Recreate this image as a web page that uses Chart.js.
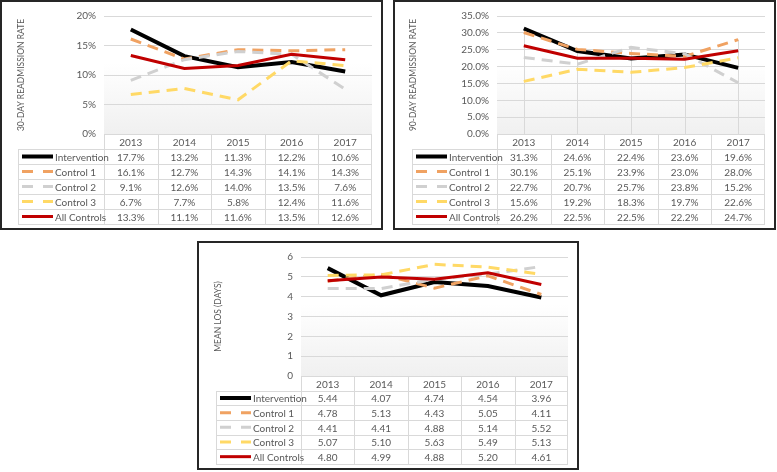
<!DOCTYPE html>
<html>
<head>
<meta charset="utf-8">
<script src="https://cdn.jsdelivr.net/npm/chart.js@4.4.1/dist/chart.umd.min.js"></script>
<style>
  body { margin: 0; background: #fff; width: 777px; height: 472px; position: relative; overflow: hidden; }
  .panel { position: absolute; border: 2px solid #262626; box-sizing: border-box; background: #fff; }
  .panel canvas { display: block; }
</style>
</head>
<body>
<div class="panel" id="p1" style="left:0;top:0;width:383px;height:230px;"><canvas id="c30" width="379" height="226"></canvas></div>
<div class="panel" id="p2" style="left:393px;top:0;width:383px;height:230px;"><canvas id="c90" width="379" height="226"></canvas></div>
<div class="panel" id="p3" style="left:197px;top:241px;width:382px;height:229px;"><canvas id="clos" width="378" height="225"></canvas></div>
<script>
// categories and series
const years = ['2013', '2014', '2015', '2016', '2017'];
const seriesNames = ['Intervention', 'Control 1', 'Control 2', 'Control 3', 'All Controls'];

// 30-day readmission rate (%)
const r30Intervention = [17.7, 13.2, 11.3, 12.2, 10.6];
const r30Control1 = [16.1, 12.7, 14.3, 14.1, 14.3];
const r30Control2 = [9.1, 12.6, 14.0, 13.5, 7.6];
const r30Control3 = [6.7, 7.7, 5.8, 12.4, 11.6];
const r30AllControls = [13.3, 11.1, 11.6, 13.5, 12.6];

// 90-day readmission rate (%)
const r90Intervention = [31.3, 24.6, 22.4, 23.6, 19.6];
const r90Control1 = [30.1, 25.1, 23.9, 23.0, 28.0];
const r90Control2 = [22.7, 20.7, 25.7, 23.8, 15.2];
const r90Control3 = [15.6, 19.2, 18.3, 19.7, 22.6];
const r90AllControls = [26.2, 22.5, 22.5, 22.2, 24.7];

// mean length of stay (days)
const losIntervention = [5.44, 4.07, 4.74, 4.54, 3.96];
const losControl1 = [4.78, 5.13, 4.43, 5.05, 4.11];
const losControl2 = [4.41, 4.41, 4.88, 5.14, 5.52];
const losControl3 = [5.07, 5.10, 5.63, 5.49, 5.13];
const losAllControls = [4.80, 4.99, 4.88, 5.20, 4.61];

// axes
const title30 = '30-DAY READMISSION RATE';
const title90 = '90-DAY READMISSION RATE';
const titleLos = 'MEAN LOS (DAYS)';
const yMax30 = 20, yStep30 = 5;
const yMax90 = 35, yStep90 = 5;
const yMaxLos = 6, yStepLos = 1;

// styles
const FONT = 'Lato, "Open Sans", sans-serif';
const TEXT = '#595959';
const GRID = '#d9d9d9';
const estilos = [
  { color: '#000000', width: 4, dash: [], keyDash: [] },
  { color: '#f0a262', width: 3, dash: [11, 7], keyDash: [11, 10] },
  { color: '#d0d0d0', width: 3, dash: [11, 7], keyDash: [11, 10] },
  { color: '#ffd966', width: 3, dash: [11, 7], keyDash: [11, 10] },
  { color: '#c00000', width: 3, dash: [], keyDash: [] }
];

// fundo com degradê, drop lines e tabela de dados
const tabelaPlugin = {
  id: 'tabela',
  beforeDraw(chart) {
    const { ctx, chartArea: a } = chart;
    const g = ctx.createLinearGradient(0, a.top, 0, a.bottom);
    g.addColorStop(0, '#ffffff');
    g.addColorStop(0.4, '#ffffff');
    g.addColorStop(1, '#f0f0f0');
    ctx.save();
    ctx.fillStyle = g;
    ctx.fillRect(a.left, a.top, a.right - a.left, a.bottom - a.top);
    ctx.restore();
  },
  beforeDatasetsDraw(chart, args, opts) {
    if (!opts.dropLines) return;
    const { ctx, chartArea: a } = chart;
    const x = chart.scales.x, y = chart.scales.y;
    ctx.save();
    ctx.strokeStyle = GRID;
    ctx.lineWidth = 1;
    years.forEach((yr, i) => {
      const top = Math.max(...chart.data.datasets.map(d => d.data[i]));
      const px = Math.round(x.getPixelForValue(i)) + 0.5;
      ctx.beginPath();
      ctx.moveTo(px, y.getPixelForValue(top));
      ctx.lineTo(px, a.bottom);
      ctx.stroke();
    });
    ctx.restore();
  },
  afterDraw(chart, args, opts) {
    const { ctx, chartArea: a } = chart;
    const x = chart.scales.x;
    const half = (x.getPixelForValue(1) - x.getPixelForValue(0)) / 2;
    const labelLeft = opts.labelLeft;
    const bottom = chart.height - 4;
    const rowH = (bottom - a.bottom) / 6;
    ctx.save();
    ctx.strokeStyle = GRID;
    ctx.lineWidth = 1;
    ctx.font = '10px ' + FONT;
    ctx.fillStyle = TEXT;
    ctx.textBaseline = 'middle';

    // header
    const y0 = a.bottom;
    ctx.strokeRect(a.left + 0.5, Math.round(y0) + 0.5, a.right - a.left - 1, Math.round(bottom - y0));
    ctx.textAlign = 'center';
    years.forEach((yr, i) => {
      const cx = x.getPixelForValue(i);
      ctx.fillText(yr, cx, y0 + rowH / 2 + 1);
    });
    // column separators
    for (let i = 1; i < years.length; i++) {
      const px = Math.round(x.getPixelForValue(i) - half) + 0.5;
      ctx.beginPath();
      ctx.moveTo(px, y0);
      ctx.lineTo(px, bottom);
      ctx.stroke();
    }
    // label column box
    ctx.strokeRect(labelLeft + 0.5, Math.round(y0 + rowH) + 0.5, a.left - labelLeft, Math.round(bottom - y0 - rowH));

    chart.data.datasets.forEach((ds, r) => {
      const top = y0 + rowH * (r + 1);
      const cy = top + rowH / 2 + 1;
      ctx.beginPath();
      ctx.moveTo(labelLeft, Math.round(top) + 0.5);
      ctx.lineTo(a.right, Math.round(top) + 0.5);
      ctx.stroke();

      // legend key
      const st = estilos[r];
      ctx.save();
      ctx.strokeStyle = st.color;
      ctx.lineWidth = st.width;
      ctx.setLineDash(st.keyDash);
      ctx.beginPath();
      ctx.moveTo(labelLeft + 4, cy - 1);
      ctx.lineTo(labelLeft + 35, cy - 1);
      ctx.stroke();
      ctx.restore();

      ctx.textAlign = 'left';
      ctx.fillText(ds.label, labelLeft + 37, cy);
      ctx.textAlign = 'center';
      ds.data.forEach((v, i) => {
        ctx.fillText(opts.format(v), x.getPixelForValue(i), cy);
      });
    });
    ctx.restore();
  }
};

function montarGrafico(id, series, titulo, yMax, yStep, tickFmt, tabFmt, labelLeft, titlePad, dropLines, padBottom) {
  const datasets = series.map((dados, i) => ({
    label: seriesNames[i],
    data: dados,
    borderColor: estilos[i].color,
    borderWidth: estilos[i].width,
    borderDash: estilos[i].dash,
    pointRadius: 0,
    tension: 0,
    fill: false,
    order: series.length - i
  }));
  return new Chart(document.getElementById(id), {
    type: 'line',
    data: { labels: years, datasets },
    plugins: [tabelaPlugin],
    options: {
      responsive: false,
      animation: false,
      devicePixelRatio: 1,
      layout: { padding: { top: 0, right: 9, bottom: padBottom, left: 0 } },
      plugins: {
        legend: { display: false },
        tooltip: { enabled: false },
        tabela: { format: tabFmt, labelLeft: labelLeft, dropLines: dropLines }
      },
      scales: {
        x: { display: false, offset: true },
        y: {
          min: 0,
          max: yMax,
          afterFit: s => { s.width = 102; },
          border: { display: false },
          grid: { color: GRID, drawTicks: false },
          ticks: { stepSize: yStep, padding: 8, color: TEXT, font: { family: FONT, size: 10 }, callback: tickFmt },
          title: { display: true, text: titulo, color: TEXT, font: { family: FONT, size: 8.5 }, padding: { top: titlePad, bottom: 0 } }
        }
      }
    }
  });
}

montarGrafico('c30', [r30Intervention, r30Control1, r30Control2, r30Control3, r30AllControls],
  title30, yMax30, yStep30, v => v + '%', v => v.toFixed(1) + '%', 16, 14, false, 94);
montarGrafico('c90', [r90Intervention, r90Control1, r90Control2, r90Control3, r90AllControls],
  title90, yMax90, yStep90, v => v.toFixed(1) + '%', v => v.toFixed(1) + '%', 17, 13, true, 94);
montarGrafico('clos', [losIntervention, losControl1, losControl2, losControl3, losAllControls],
  titleLos, yMaxLos, yStepLos, v => v, v => v.toFixed(2), 17, 14, false, 92);
</script>
</body>
</html>
